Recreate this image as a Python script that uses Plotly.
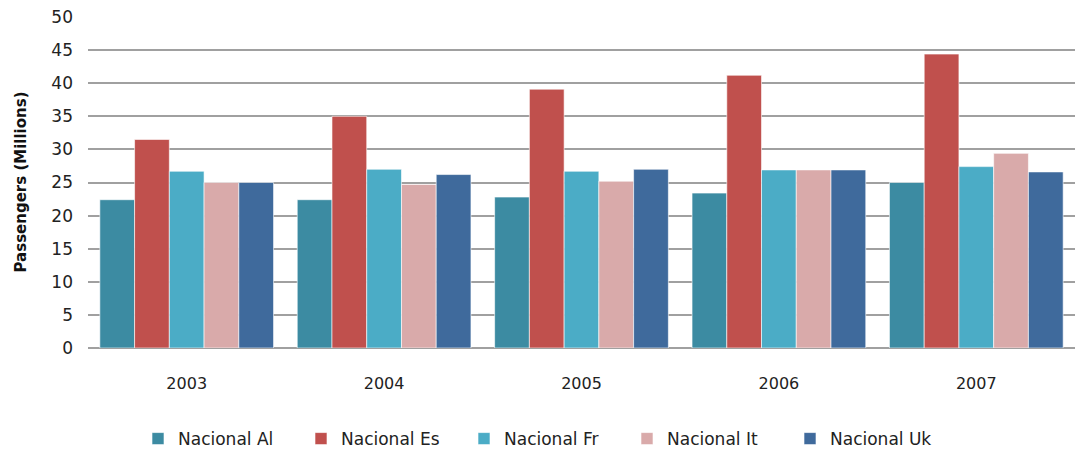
import plotly.graph_objects as go

years = ["2003", "2004", "2005", "2006", "2007"]
series_names = ["Nacional Al", "Nacional Es", "Nacional Fr", "Nacional It", "Nacional Uk"]
nacional_al = [22.4, 22.4, 22.8, 23.4, 25.0]
nacional_es = [31.5, 35.0, 39.1, 41.2, 44.4]
nacional_fr = [26.7, 27.0, 26.7, 26.9, 27.4]
nacional_it = [25.0, 24.7, 25.2, 26.9, 29.4]
nacional_uk = [25.0, 26.2, 27.0, 26.9, 26.6]
y_ticks = [0, 5, 10, 15, 20, 25, 30, 35, 40, 45, 50]

colors = ["#3C8BA2", "#C0504D", "#4BACC6", "#D9AAAA", "#3F6A9C"]
values = [nacional_al, nacional_es, nacional_fr, nacional_it, nacional_uk]

fig = go.Figure()
for name, vals, col in zip(series_names, values, colors):
    fig.add_trace(go.Bar(
        name=name, x=years, y=vals,
        marker=dict(color=col, line=dict(color="rgba(255,255,255,0.6)", width=1)),
    ))

fig.add_annotation(
    text="<b>Passengers (Millions)</b>", textangle=-90,
    xref="paper", yref="paper", x=(20 - 88) / 987, y=0.5,
    xanchor="center", yanchor="middle", showarrow=False,
    font=dict(family="DejaVu Sans", size=15, color="#111"),
)

fig.update_layout(
    width=1078, height=452,
    margin=dict(l=88, r=3, t=17, b=104, autoexpand=False),
    paper_bgcolor="white", plot_bgcolor="white",
    barmode="group", bargap=0.12, bargroupgap=0,
    font=dict(family="DejaVu Sans", size=16, color="#222"),
    showlegend=True,
    legend=dict(orientation="h", x=(138 - 88) / 987, xanchor="left", y=-0.275, yanchor="middle",
                font=dict(size=17, color="#222"), itemwidth=30, traceorder="normal",
                entrywidth=118, entrywidthmode="pixels"),
    xaxis=dict(showgrid=False, ticks="", showline=False, automargin=False,
               tickfont=dict(size=16), ticklabelstandoff=24),
    yaxis=dict(range=[0, 50], tickvals=y_ticks, showgrid=True, gridcolor="#A0A0A0", gridwidth=1.5,
               zeroline=True, zerolinecolor="#A0A0A0", zerolinewidth=1.5, automargin=False,
               ticks="", tickfont=dict(size=17), ticklabelstandoff=14),
)

fig.write_html("out.html", config={"displayModeBar": False},
               post_script="document.body.style.margin='0';document.body.style.overflow='hidden';")
